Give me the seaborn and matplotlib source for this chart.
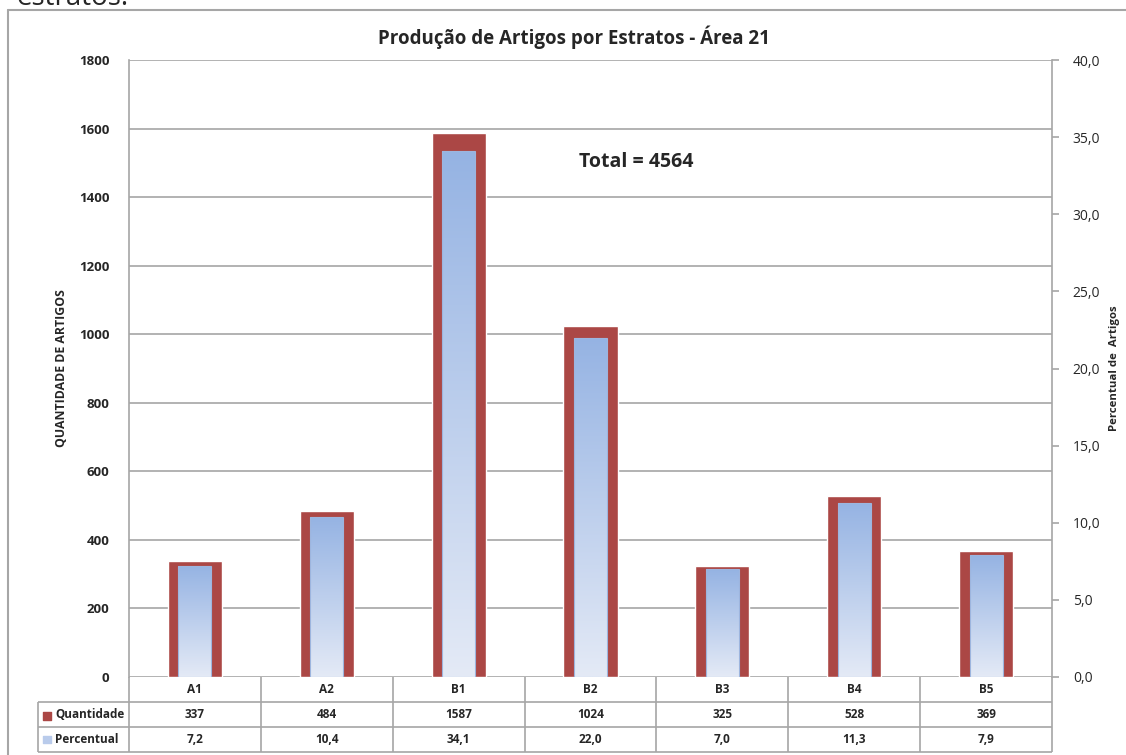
"""Producao de artigos por estratos - Area 21."""
import matplotlib
matplotlib.use("Agg")
import matplotlib.pyplot as plt
import seaborn as sns
import numpy as np
from matplotlib.lines import Line2D

estratos = ["A1", "A2", "B1", "B2", "B3", "B4", "B5"]
quantidade = [337, 484, 1587, 1024, 325, 528, 369]
percentual = [7.2, 10.4, 34.1, 22.0, 7.0, 11.3, 7.9]
total = 4564

RED = "#ab4745"
GRID = "#a6a6a6"
FONT = ["Open Sans", "DejaVu Sans"]

sns.set_style("white")
plt.rcParams["font.family"] = FONT

W, H = 1126, 755
fig = plt.figure(figsize=(W / 100, H / 100), dpi=100)
fig.patch.set_facecolor("white")


def fx(px):
    return px / W


def fy(py):
    return 1 - py / H


L, R, T, B = 129, 1052, 60, 677
ax = fig.add_axes([fx(L), fy(B), fx(R - L), fy(T) - fy(B)])

sns.barplot(x=estratos, y=quantidade, color=RED, saturation=1, width=0.41,
            ax=ax, zorder=2)
ax.set_ylim(0, 1800)
ax.set_yticks(np.arange(0, 1801, 200))
ax.set_xlim(-0.5, 6.5)
ax.grid(axis="y", color=GRID, lw=1.2, zorder=0)
ax.set_axisbelow(True)
ax.set_xticks([])
ax.set_xlabel("")
ax.set_ylabel("QUANTIDADE DE ARTIGOS", fontsize=8.8, fontweight="bold", labelpad=8)
ax.tick_params(axis="y", length=0, pad=14, labelsize=9.5)
for t in ax.get_yticklabels():
    t.set_fontweight("bold")
for s in ["top", "right", "bottom"]:
    ax.spines[s].set_visible(False)
ax.spines["left"].set_color(GRID)
ax.spines["left"].set_linewidth(1.2)

# secondary axis with gradient bars
ax2 = ax.twinx()
sns.barplot(x=estratos, y=percentual, color="#95b3e3", saturation=1, width=0.25,
            ax=ax2, zorder=3)
ax2.set_ylim(0, 40)
ax2.set_xlim(-0.5, 6.5)
ax2.set_yticks(np.arange(0, 40.1, 5))
ax2.set_yticklabels([f"{v:.1f}".replace(".", ",") for v in np.arange(0, 40.1, 5)])
ax2.tick_params(axis="y", length=5, width=1.2, color=GRID, pad=10, labelsize=10)
ax2.set_ylabel("Percentual de  Artigos", fontsize=8.2, fontweight="bold", labelpad=6)
ax2.set_xticks([])
ax2.set_xlabel("")
for s in ["top", "left", "bottom"]:
    ax2.spines[s].set_visible(False)
ax2.spines["right"].set_color(GRID)
ax2.spines["right"].set_linewidth(1.2)

grad = np.linspace(0, 1, 256).reshape(-1, 1)
cmap = matplotlib.colors.LinearSegmentedColormap.from_list("g", ["#95b3e3", "#e4eaf6"])
for p in ax2.patches:
    x0, y0 = p.get_x(), p.get_y()
    w, h = p.get_width(), p.get_height()
    p.set_facecolor("none")
    p.set_edgecolor("#9db5de")
    p.set_linewidth(0.8)
    im = ax2.imshow(grad, cmap=cmap, aspect="auto", extent=[x0, x0 + w, y0, y0 + h],
                    origin="upper", zorder=2.5)
    im.set_clip_path(p)
ax2.set_xlim(-0.5, 6.5)
ax2.set_ylim(0, 40)

ax.text(0.55, 0.835, f"Total = {total}", transform=ax.transAxes, fontsize=14,
        fontweight="bold", ha="center", va="center")

# data table below the plot
LT = 38
unit = (R - L) / 7
tab = fig.add_axes([fx(LT), fy(752), fx(R - LT), fy(B) - fy(752)])
xl = -0.5 - (L - LT) / unit
tab.set_xlim(xl, 6.5)
tab.set_ylim(0, 3)
tab.axis("off")
kw = dict(color=GRID, lw=1.2, clip_on=False)
tab.hlines([0, 1, 2], xl, 6.5, **kw)
tab.vlines(np.arange(-0.5, 6.6, 1), 0, 3, **kw)
tab.vlines([xl], 0, 2, **kw)
rows = [[str(v) for v in quantidade],
        [f"{v:.1f}".replace(".", ",") for v in percentual]]
for i, e in enumerate(estratos):
    tab.text(i, 2.5, e, ha="center", va="center", fontsize=8.5, fontweight="bold")
    tab.text(i, 1.5, rows[0][i], ha="center", va="center", fontsize=8.5, fontweight="bold")
    tab.text(i, 0.5, rows[1][i], ha="center", va="center", fontsize=8.5, fontweight="bold")
tab.scatter([xl + 0.07, xl + 0.07], [1.45, 0.5], marker="s", s=30,
            c=[RED, "#b9cbeb"], clip_on=False)
tab.text(xl + 0.13, 1.5, "Quantidade", va="center", fontsize=8.5, fontweight="bold")
tab.text(xl + 0.13, 0.5, "Percentual", va="center", fontsize=8.5, fontweight="bold")

fig.text(fx(574), fy(37), "Produção de Artigos por Estratos - Área 21",
         ha="center", va="center", fontsize=13.5, fontweight="bold")

# frame of the embedded chart and the cut-off document text above it
fig.add_artist(Line2D([fx(8), fx(8)], [fy(10), 0], color=GRID, lw=1.5))
fig.add_artist(Line2D([fx(8), 1], [fy(10), fy(10)], color=GRID, lw=1.5))
fig.text(fx(17), fy(5), "estratos.", fontsize=20, va="baseline", ha="left")

fig.savefig("out.png", dpi=100, facecolor="white")
